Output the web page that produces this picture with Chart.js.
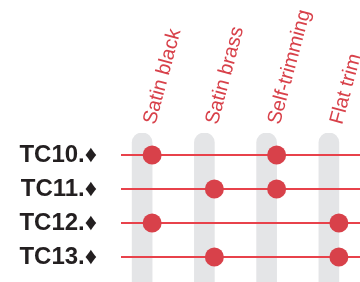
<!DOCTYPE html>
<html>
<head>
<meta charset="utf-8">
<script src="https://cdn.jsdelivr.net/npm/chart.js@4"></script>
<style>
  html, body { margin: 0; padding: 0; overflow: hidden; background: #fff; }
  #wrap { width: 370px; height: 282px; }
</style>
</head>
<body>
<div id="wrap"><canvas id="MyChart"></canvas></div>
<script>
const columns = ['Satin black', 'Satin brass', 'Self-trimming', 'Flat trim'];
const rows = ['TC10.\u2666', 'TC11.\u2666', 'TC12.\u2666', 'TC13.\u2666'];
// which column each row has a dot in
const marks = [
    ['Satin black', 'Self-trimming'],
    ['Satin brass', 'Self-trimming'],
    ['Satin black', 'Flat trim'],
    ['Satin brass', 'Flat trim']
];

const red = '#d8414a';
const lineRed = '#e8424b';
const grey = '#e4e5e7';

const dots = [];
marks.forEach((cols, i) => cols.forEach((c) => dots.push({x: c, y: i})));

const rowLines = rows.map((r, i) => ({
    type: 'line',
    label: r,
    xAxisID: 'xLine',
    data: [{x: 0, y: i}, {x: 1, y: i}],
    borderColor: lineRed,
    borderWidth: 2,
    pointRadius: 0,
    order: 1,
}));

const ctx = document.getElementById('MyChart').getContext('2d');
new Chart(ctx, {
    type: 'bar',
    data: {
        labels: columns,
        datasets: [
            {
                type: 'line',
                label: 'dots',
                data: dots,
                showLine: false,
                pointRadius: 9.5,
                pointBackgroundColor: red,
                pointBorderWidth: 0,
                order: 0,
            },
            ...rowLines,
            {
                label: 'columns',
                data: columns.map(() => [-0.65, 4.5]),
                backgroundColor: grey,
                barThickness: 20,
                borderRadius: 10,
                borderSkipped: false,
                order: 2,
            }
        ]
    },
    options: {
        animation: false,
        responsive: true,
        maintainAspectRatio: false,
        layout: {padding: 0, autoPadding: false},
        plugins: {legend: {display: false}, tooltip: {enabled: false}},
        scales: {
            x: {
                position: 'top',
                grid: {display: false, drawTicks: false},
                border: {display: false},
                ticks: {
                    minRotation: 75,
                    maxRotation: 75,
                    color: red,
                    padding: 6,
                    labelOffset: 21,
                    font: {family: 'Liberation Sans, Arial', size: 20},
                },
                afterFit: (s) => { s.height = 133; s.paddingLeft = 0; s.paddingRight = 0; },
            },
            xLine: {
                type: 'linear',
                display: false,
                offset: false,
                min: 0,
                max: 1,
            },
            y: {
                type: 'linear',
                reverse: true,
                min: -0.647,
                max: 3.735,
                grid: {display: false, drawTicks: false},
                border: {display: false},
                afterBuildTicks: (s) => { s.ticks = rows.map((r, i) => ({value: i})); },
                ticks: {
                    color: '#231f20',
                    padding: 24,
                    font: {family: 'Liberation Sans, Arial', size: 24, weight: 'bold'},
                    callback: (v) => rows[v],
                },
                afterFit: (s) => { s.width = 121; s.paddingTop = 0; s.paddingBottom = 0; },
            }
        }
    }
});
</script>
</body>
</html>
